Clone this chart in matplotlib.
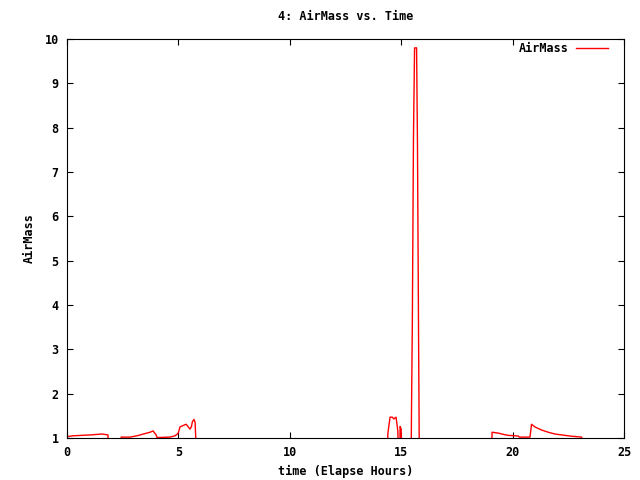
import matplotlib
matplotlib.use("Agg")
import matplotlib.pyplot as plt

# gnuplot-style AirMass vs elapsed time; zeros = not observed (clipped below y=1)
hours = [0.0, 0.27, 1.08, 1.57, 1.84, 1.87,
         2.40, 2.43, 2.83, 3.14, 3.50, 3.73, 3.86, 4.00, 4.04, 4.62, 4.85, 4.95,
         5.00, 5.07, 5.30, 5.35, 5.52, 5.58, 5.63, 5.70, 5.75, 5.86,
         14.35, 14.40, 14.50, 14.60, 14.67, 14.77, 14.85, 14.90, 14.93, 14.95, 15.00, 15.03,
         15.44, 15.46, 15.50, 15.55, 15.60, 15.69, 15.73, 15.78, 15.82,
         19.00, 19.08, 19.36, 19.60, 19.80, 20.25, 20.30, 20.78, 20.85, 21.00,
         21.30, 21.60, 21.90, 22.20, 22.65, 23.10, 23.15]
airmass = [1.03, 1.05, 1.07, 1.09, 1.07, 0.0,
           0.0, 1.02, 1.02, 1.05, 1.10, 1.13, 1.16, 1.07, 1.01, 1.02, 1.05, 1.09,
           1.12, 1.25, 1.30, 1.31, 1.20, 1.25, 1.37, 1.42, 1.35, 0.0,
           0.0, 1.10, 1.47, 1.47, 1.43, 1.47, 1.15, 0.0, 0.0, 1.26, 1.20, 0.0,
           0.0, 1.48, 3.62, 7.76, 9.80, 9.80, 7.65, 3.25, 0.0,
           0.0, 1.13, 1.11, 1.08, 1.06, 1.045, 1.02, 1.02, 1.31, 1.25,
           1.18, 1.13, 1.09, 1.07, 1.04, 1.02, 0.0]

xticks = [0, 5, 10, 15, 20, 25]
yticks = [1, 2, 3, 4, 5, 6, 7, 8, 9, 10]

FONT = {"family": "DejaVu Sans Mono", "weight": "bold", "size": 8.5}

fig = plt.figure(figsize=(6.4, 4.8), dpi=100)
ax = fig.add_axes([0.1047, 0.0875, 0.8703, 0.83125])

ax.plot(hours, airmass, color="#ff0000", linewidth=1.0, label="AirMass")

ax.set_xlim(0, 25)
ax.set_ylim(1, 10)
ax.set_xticks(xticks)
ax.set_yticks(yticks)
ax.tick_params(direction="in", top=True, right=True, length=4, width=0.8, pad=6)
for lab in ax.get_xticklabels() + ax.get_yticklabels():
    lab.set_fontproperties(FONT)
for sp in ax.spines.values():
    sp.set_linewidth(0.8)

ax.set_title("4: AirMass vs. Time", fontdict=FONT, pad=14)
ax.set_xlabel("time (Elapse Hours)", fontdict=FONT, labelpad=4)
ax.set_ylabel("AirMass", fontdict=FONT, labelpad=6)

leg = ax.legend(loc="upper right", bbox_to_anchor=(0.98, 1.004), frameon=False,
                markerfirst=False, prop=FONT, handlelength=2.7,
                handletextpad=0.68, borderaxespad=0)

fig.savefig("out.png", dpi=100)
